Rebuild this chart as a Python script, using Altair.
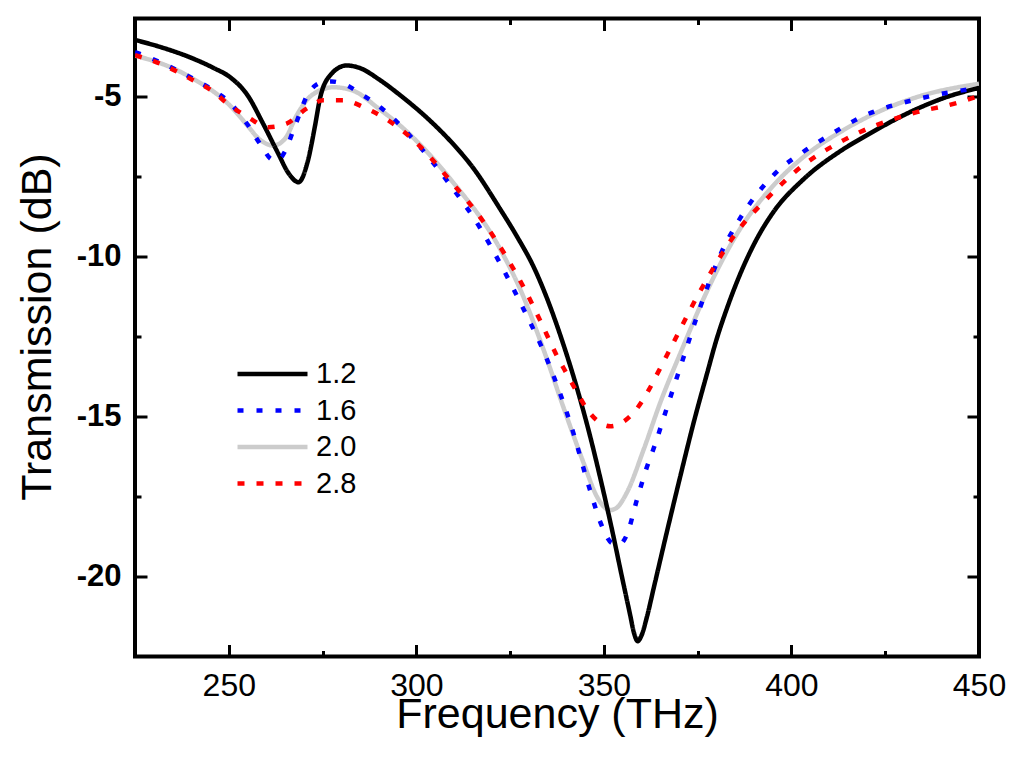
import altair as alt
import pandas as pd

# ---------------- data ----------------
series_names = ["1.2", "1.6", "2.0", "2.8"]
series_colors = ["#000000", "#0000ff", "#cccccc", "#ff0000"]
series_dashes = [[1, 0], [6, 13], [1, 0], [7, 12]]

freq_12 = [225, 232, 240, 246, 250.3, 255, 259.2, 263, 266, 268.6, 271, 273, 274.3, 277,
           281.4, 285, 290, 295.7, 303.7, 310, 315, 322.3, 327, 331.2, 335, 338.8, 342.8,
           346.3, 349.4, 352.1, 354.8, 357, 358, 359, 360, 361.5, 363.3, 366.8, 370.4, 373.9,
           377.5, 380, 383, 386.3, 390.5, 395.2, 403, 413, 420.1, 433.4, 441, 450]
trans_12 = [-3.22, -3.45, -3.78, -4.1, -4.38, -4.95, -5.85, -6.73, -7.4, -7.67, -7.04, -5.9,
            -5.06, -4.33, -4.02, -4.1, -4.45, -4.95, -5.75, -6.5, -7.2, -8.5, -9.4, -10.3,
            -11.35, -12.6, -14.1, -15.6, -17.1, -18.5, -20.0, -21.2, -21.75, -22.02, -21.85,
            -21.25, -20.35, -18.6, -16.85, -15.2, -13.65, -12.6, -11.55, -10.55, -9.5, -8.6,
            -7.6, -6.7, -6.2, -5.38, -5.02, -4.72]

freq_16 = [225, 230.8, 240.6, 245.9, 250, 254.9, 258.8, 261.4, 263, 265, 267.2, 269, 270.7,
           273, 275.2, 277.5, 280.6, 285.9, 291.2, 300.1, 309, 317, 322.3, 328, 334.8, 341.3,
           346.3, 349.4, 352.1, 354, 356.1, 358.8, 361.4, 363.7, 365.9, 367.7, 370.8, 375,
           381, 386.3, 395.2, 404, 409.4, 419.2, 434.3, 450]
trans_16 = [-3.6, -3.87, -4.44, -4.8, -5.15, -5.85, -6.55, -6.95, -6.98, -6.7, -6.05, -5.5,
            -5.0, -4.65, -4.54, -4.52, -4.6, -4.96, -5.4, -6.45, -7.75, -9.1, -10.2, -11.5,
            -13.2, -15.3, -17.3, -18.4, -18.95, -19.0, -18.7, -17.6, -16.6, -15.85, -15.05,
            -14.4, -13.3, -11.8, -9.95, -8.8, -7.45, -6.65, -6.25, -5.6, -5.05, -4.72]

freq_20 = [225, 235, 240, 250.3, 255, 258, 261.9, 265, 268.1, 272, 277.9, 283, 290, 295.7,
           303.7, 309, 322.3, 328, 333.9, 339.2, 344.6, 348.1, 350.3, 351.7, 353.4, 356.1,
           360.6, 365, 370.8, 377.4, 386.3, 395.2, 403, 413, 420.1, 433.4, 450]
trans_20 = [-3.71, -4.1, -4.4, -5.27, -5.9, -6.31, -6.52, -6.31, -5.58, -4.96, -4.70, -4.80,
            -5.37, -5.9, -6.83, -7.56, -9.75, -11.1, -12.9, -14.7, -16.45, -17.49, -17.85,
            -17.92, -17.85, -17.38, -16.03, -14.57, -12.9, -11.1, -9.13, -7.77, -6.9, -6.1,
            -5.64, -5.01, -4.59]

freq_28 = [225, 230.8, 235.7, 240.6, 245.4, 250.3, 255.2, 260.5, 265.4, 270.7, 275.2, 280.6,
           285.9, 291.2, 295.7, 301, 309.4, 317, 323.2, 328.6, 333, 337.4, 340.1, 342.8,
           345.4, 349.4, 351.7, 354.3, 358.8, 361.9, 364.5, 366.8, 376.5, 385.4, 393.4, 403,
           412.1, 418.3, 433.4, 443.2, 450]
trans_28 = [-3.7, -3.92, -4.18, -4.49, -4.8, -5.27, -5.64, -5.95, -5.84, -5.37, -5.11, -5.11,
            -5.32, -5.64, -6.0, -6.55, -7.67, -8.76, -9.85, -10.95, -11.99, -13.08, -13.66,
            -14.23, -14.75, -15.22, -15.3, -15.22, -14.75, -14.18, -13.6, -13.08, -10.9,
            -9.23, -8.19, -7.15, -6.47, -6.1, -5.48, -5.22, -4.97]

x_major = [250, 300, 350, 400, 450]
x_minor = [275, 325, 375, 425]
y_major = [-5, -10, -15, -20]
y_minor = [-7.5, -12.5, -17.5]

# drawing order: grey underneath, then black, blue, red
rows = []
for name, fs, vs in [("2.0", freq_20, trans_20), ("1.2", freq_12, trans_12),
                     ("1.6", freq_16, trans_16), ("2.8", freq_28, trans_28)]:
    for f, v in zip(fs, vs):
        rows.append({"f": f, "v": v, "series": name})
df = pd.DataFrame(rows)

FONT = "Liberation Sans, Arial, Helvetica, sans-serif"
xscale = alt.Scale(domain=[225, 450], nice=False, zero=False)
yscale = alt.Scale(domain=[-22.5, -2.55], nice=False, zero=False)

leg = alt.Legend(orient="none", legendX=121, legendY=339, title=None,
                 symbolType="M-2.5,0H2.5", symbolSize=784, symbolStrokeWidth=4.5,
                 labelFontSize=29, labelFont=FONT, labelColor="black", labelOffset=27,
                 rowPadding=4.5, padding=0, symbolOpacity=1)

lines = alt.Chart(df).mark_line(strokeWidth=4.5, interpolate="monotone", clip=True,
                                strokeCap="butt", strokeJoin="round").encode(
    x=alt.X("f:Q", scale=xscale,
            axis=alt.Axis(orient="bottom", values=x_major, ticks=False, domain=False, grid=False,
                          labelFontSize=32, labelFont=FONT, labelColor="black", labelPadding=14,
                          labelFlush=False, labelOverlap=False,
                          title="Frequency (THz)", titleFont=FONT, titleFontSize=43,
                          titleFontWeight="normal", titleColor="black",
                          titleBaseline="alphabetic", titleY=71)),
    y=alt.Y("v:Q", scale=yscale,
            axis=alt.Axis(orient="left", values=y_major, ticks=False, domain=False, grid=False,
                          labelFontSize=31, labelFontWeight="bold", labelFont=FONT,
                          labelColor="black", labelPadding=14, labelOverlap=False,
                          labelExpr="'-' + abs(datum.value)",
                          title="Transmission (dB)", titleFont=FONT, titleFontSize=43,
                          titleFontWeight="normal", titleColor="black",
                          titleX=-85, titleY=308, titleBaseline="alphabetic", titleAngle=270)),
    color=alt.Color("series:N", scale=alt.Scale(domain=series_names, range=series_colors),
                    legend=leg),
    strokeDash=alt.StrokeDash("series:N",
                              scale=alt.Scale(domain=series_names, range=series_dashes),
                              legend=leg),
)


def tick_layer(xvals, yvals, xorient, yorient, size):
    ax = alt.Axis(orient=xorient, values=xvals, labels=False, domain=False, grid=False,
                  ticks=True, tickSize={"expr": str(-size)}, tickWidth=3, tickColor="black",
                  title=None)
    ay = alt.Axis(orient=yorient, values=yvals, labels=False, domain=False, grid=False,
                  ticks=True, tickSize={"expr": str(-size)}, tickWidth=3, tickColor="black",
                  title=None)
    return alt.Chart(df).mark_point(opacity=0).encode(
        x=alt.X("f:Q", scale=xscale, axis=ax),
        y=alt.Y("v:Q", scale=yscale, axis=ay),
    )


t1 = tick_layer(x_major, y_major, "bottom", "left", 12)
t2 = tick_layer(x_minor, y_minor, "bottom", "left", 6)
t3 = tick_layer(x_major, y_major, "top", "right", 12)
t4 = tick_layer(x_minor, y_minor, "top", "right", 6)

chart = alt.layer(lines, t1, t2, t3, t4).resolve_scale(
    x="independent", y="independent"
).properties(
    width=844, height=638,
    padding={"left": 127, "top": 10.5, "right": 37, "bottom": 100},
    autosize=alt.AutoSizeParams(type="none"),
).configure(
    font=FONT, background="white"
).configure_view(
    stroke="black", strokeWidth=4
)

chart.save("out.html", embed_options={"renderer": "svg", "actions": False})
